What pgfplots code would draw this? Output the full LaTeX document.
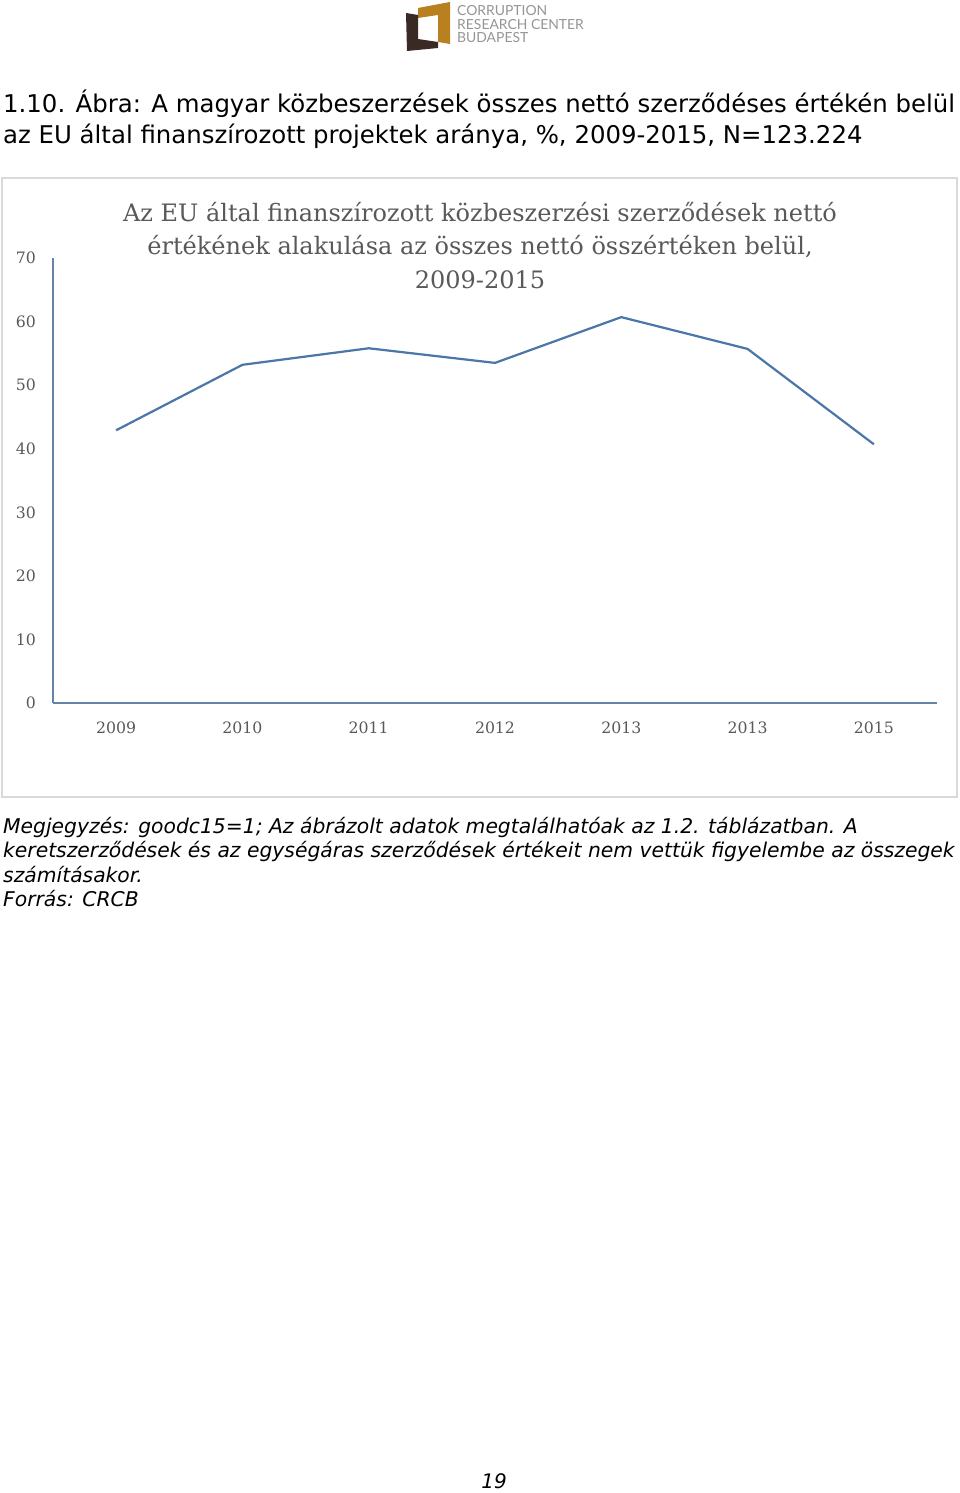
\documentclass[border=0pt]{standalone}
\usepackage{pgfplots}
\pgfplotsset{compat=1.18}
\usepackage{fontspec}
\setmainfont{DejaVu Sans}
\newfontfamily\chartfont{DejaVu Serif}
\newfontfamily\logofont{Lato}

\definecolor{linecol}{RGB}{74,118,168}
\definecolor{axiscol}{RGB}{100,132,170}
\definecolor{txtgray}{RGB}{89,89,89}
\definecolor{framegray}{RGB}{217,217,217}
\definecolor{logogold}{RGB}{184,128,30}
\definecolor{logodark}{RGB}{58,42,38}
\definecolor{logotext}{RGB}{150,150,150}

\begin{document}
\begin{tikzpicture}
% page
\path[use as bounding box, fill=white] (0pt,0pt) rectangle (960pt,-1493pt);

% logo
\fill[logogold] (418pt,-8pt) -- (450pt,-2pt) -- (450pt,-44pt) -- (438pt,-42pt)
  -- (438pt,-15pt) -- (418pt,-18pt) -- cycle;
\fill[logodark] (406pt,-13pt) -- (418pt,-15pt) -- (418pt,-39pt) -- (438pt,-42pt)
  -- (438pt,-48pt) -- (407pt,-51pt) -- cycle;
\node[anchor=base west, inner sep=0pt, text=logotext, font=\logofont\fontsize{13.9}{14}\selectfont]
  at (457pt,-16pt) {CORRUPTION};
\node[anchor=base west, inner sep=0pt, text=logotext, font=\logofont\fontsize{13.9}{14}\selectfont]
  at (457pt,-30pt) {RESEARCH CENTER};
\node[anchor=base west, inner sep=0pt, text=logotext, font=\logofont\fontsize{13.9}{14}\selectfont]
  at (457pt,-43pt) {BUDAPEST};

% figure caption
\node[anchor=base west, inner sep=0pt, font=\fontsize{24.4}{28}\selectfont]
  at (3pt,-113pt) {1.10. Ábra: A magyar közbeszerzések összes nettó szerződéses értékén belül};
\node[anchor=base west, inner sep=0pt, font=\fontsize{24.4}{28}\selectfont]
  at (3pt,-143pt) {az EU által finanszírozott projektek aránya, \%, 2009-2015, N=123.224};

% chart frame
\draw[framegray, line width=1.5pt] (2pt,-178pt) rectangle (957pt,-797pt);

% chart title
\node[anchor=base, inner sep=0pt, text=txtgray, font=\chartfont\fontsize{24}{28}\selectfont]
  at (480pt,-221pt) {Az EU által finanszírozott közbeszerzési szerződések nettó};
\node[anchor=base, inner sep=0pt, text=txtgray, font=\chartfont\fontsize{24}{28}\selectfont]
  at (480pt,-254.5pt) {értékének alakulása az összes nettó összértéken belül,};
\node[anchor=base, inner sep=0pt, text=txtgray, font=\chartfont\fontsize{24}{28}\selectfont]
  at (480pt,-288pt) {2009-2015};

\begin{axis}[
  at={(53pt,-703pt)}, anchor=south west,
  scale only axis, width=884pt, height=445pt,
  xmin=-0.5, xmax=6.5, ymin=0, ymax=70,
  axis x line=bottom, axis y line=left,
  axis line style={-, axiscol, line width=1.8pt},
  xtick={0,1,...,6},
  xticklabels={2009,2010,2011,2012,2013,2013,2015},
  ytick={0,10,...,70},
  major tick length=0pt,
  /pgf/number format/assume math mode=true,
  tick label style={text=txtgray, font=\chartfont\fontsize{15.7}{18}\selectfont},
  yticklabel style={anchor=east, inner sep=0pt, xshift=-17pt},
  xticklabel style={anchor=north, inner sep=0pt, yshift=-19pt},
  clip=false,
]
\addplot[linecol, line width=2.2pt, mark=none] coordinates {
  (0,42.9) (1,53.2) (2,55.8) (3,53.5) (4,60.7) (5,55.7) (6,40.7)
};
\end{axis}

% notes
\node[anchor=base west, inner sep=0pt, font=\itshape\fontsize{20.3}{24}\selectfont]
  at (3pt,-833pt) {Megjegyzés: goodc15=1; Az ábrázolt adatok megtalálhatóak az 1.2. táblázatban. A};
\node[anchor=base west, inner sep=0pt, font=\itshape\fontsize{20.3}{24}\selectfont]
  at (3pt,-857.5pt) {keretszerződések és az egységáras szerződések értékeit nem vettük figyelembe az összegek};
\node[anchor=base west, inner sep=0pt, font=\itshape\fontsize{20.3}{24}\selectfont]
  at (3pt,-882pt) {számításakor.};
\node[anchor=base west, inner sep=0pt, font=\itshape\fontsize{20.3}{24}\selectfont]
  at (3pt,-906.5pt) {Forrás: CRCB};

% page number
\node[anchor=base, inner sep=0pt, font=\itshape\fontsize{20}{24}\selectfont]
  at (494pt,-1488pt) {19};
\end{tikzpicture}
\end{document}
